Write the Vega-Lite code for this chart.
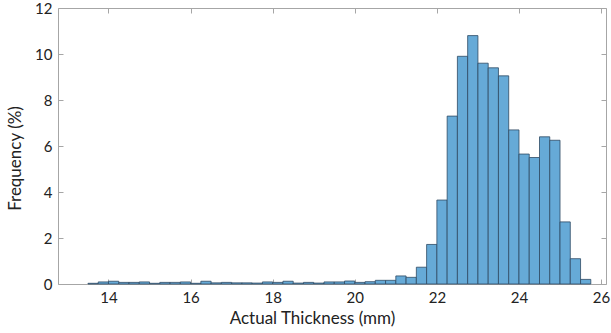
{
  "$schema": "https://vega.github.io/schema/vega-lite/v6.json",
  "width": 548,
  "height": 276,
  "autosize": "none",
  "padding": {"left": 58, "top": 8, "right": 5, "bottom": 49},
  "background": "white",
  "config": {
    "view": {"stroke": "#a6a6a6", "strokeWidth": 1},
    "font": "Lato",
    "axis": {
      "grid": false,
      "domain": false,
      "tickColor": "#a6a6a6",
      "tickSize": 5,
      "offset": -5,
      "labelColor": "#222222",
      "titleColor": "#222222",
      "labelFontSize": 15,
      "titleFontSize": 17,
      "titleFontWeight": "normal",
      "labelFont": "Lato",
      "titleFont": "Lato"
    }
  },
  "data": {
    "values": [
      {"start": 13.5, "end": 13.75, "freq": 0.03},
      {"start": 13.75, "end": 14.0, "freq": 0.09},
      {"start": 14.0, "end": 14.25, "freq": 0.12},
      {"start": 14.25, "end": 14.5, "freq": 0.07},
      {"start": 14.5, "end": 14.75, "freq": 0.07},
      {"start": 14.75, "end": 15.0, "freq": 0.09},
      {"start": 15.0, "end": 15.25, "freq": 0.03},
      {"start": 15.25, "end": 15.5, "freq": 0.07},
      {"start": 15.5, "end": 15.75, "freq": 0.07},
      {"start": 15.75, "end": 16.0, "freq": 0.09},
      {"start": 16.0, "end": 16.25, "freq": 0.03},
      {"start": 16.25, "end": 16.5, "freq": 0.12},
      {"start": 16.5, "end": 16.75, "freq": 0.05},
      {"start": 16.75, "end": 17.0, "freq": 0.07},
      {"start": 17.0, "end": 17.25, "freq": 0.05},
      {"start": 17.25, "end": 17.5, "freq": 0.05},
      {"start": 17.5, "end": 17.75, "freq": 0.04},
      {"start": 17.75, "end": 18.0, "freq": 0.09},
      {"start": 18.0, "end": 18.25, "freq": 0.07},
      {"start": 18.25, "end": 18.5, "freq": 0.12},
      {"start": 18.5, "end": 18.75, "freq": 0.04},
      {"start": 18.75, "end": 19.0, "freq": 0.07},
      {"start": 19.0, "end": 19.25, "freq": 0.04},
      {"start": 19.25, "end": 19.5, "freq": 0.09},
      {"start": 19.5, "end": 19.75, "freq": 0.09},
      {"start": 19.75, "end": 20.0, "freq": 0.13},
      {"start": 20.0, "end": 20.25, "freq": 0.07},
      {"start": 20.25, "end": 20.5, "freq": 0.1},
      {"start": 20.5, "end": 20.75, "freq": 0.16},
      {"start": 20.75, "end": 21.0, "freq": 0.16},
      {"start": 21.0, "end": 21.25, "freq": 0.35},
      {"start": 21.25, "end": 21.5, "freq": 0.29},
      {"start": 21.5, "end": 21.75, "freq": 0.73},
      {"start": 21.75, "end": 22.0, "freq": 1.72},
      {"start": 22.0, "end": 22.25, "freq": 3.65},
      {"start": 22.25, "end": 22.5, "freq": 7.3},
      {"start": 22.5, "end": 22.75, "freq": 9.9},
      {"start": 22.75, "end": 23.0, "freq": 10.8},
      {"start": 23.0, "end": 23.25, "freq": 9.6},
      {"start": 23.25, "end": 23.5, "freq": 9.4},
      {"start": 23.5, "end": 23.75, "freq": 9.05},
      {"start": 23.75, "end": 24.0, "freq": 6.7},
      {"start": 24.0, "end": 24.25, "freq": 5.65},
      {"start": 24.25, "end": 24.5, "freq": 5.5},
      {"start": 24.5, "end": 24.75, "freq": 6.4},
      {"start": 24.75, "end": 25.0, "freq": 6.25},
      {"start": 25.0, "end": 25.25, "freq": 2.7},
      {"start": 25.25, "end": 25.5, "freq": 1.1},
      {"start": 25.5, "end": 25.75, "freq": 0.2}
    ]
  },
  "layer": [
    {
      "mark": {"type": "bar", "fill": "#66aad7", "stroke": "#2e4a63", "strokeWidth": 0.8},
      "encoding": {
        "x": {
          "field": "start", "type": "quantitative",
          "scale": {"domain": [12.77, 26.12], "nice": false, "zero": false},
          "axis": {"orient": "bottom", "values": [14, 16, 18, 20, 22, 24, 26], "title": "Actual Thickness (mm)", "labelPadding": 6, "titlePadding": 5, "titleX": 254}
        },
        "x2": {"field": "end"},
        "y": {
          "field": "freq", "type": "quantitative",
          "scale": {"domain": [0, 12], "nice": false},
          "axis": {"orient": "left", "values": [0, 2, 4, 6, 8, 10, 12], "title": "Frequency (%)", "labelPadding": 6, "titlePadding": 10, "titleY": 150}
        },
        "y2": {"datum": 0}
      }
    },
    {
      "mark": {"type": "point", "opacity": 0},
      "encoding": {
        "x": {
          "field": "start", "type": "quantitative",
          "scale": {"domain": [12.77, 26.12], "nice": false, "zero": false},
          "axis": {"orient": "top", "values": [14, 16, 18, 20, 22, 24, 26], "labels": false, "title": null}
        },
        "y": {
          "field": "freq", "type": "quantitative",
          "scale": {"domain": [0, 12], "nice": false},
          "axis": {"orient": "right", "values": [0, 2, 4, 6, 8, 10, 12], "labels": false, "title": null}
        }
      }
    }
  ],
  "resolve": {"axis": {"x": "independent", "y": "independent"}}
}
